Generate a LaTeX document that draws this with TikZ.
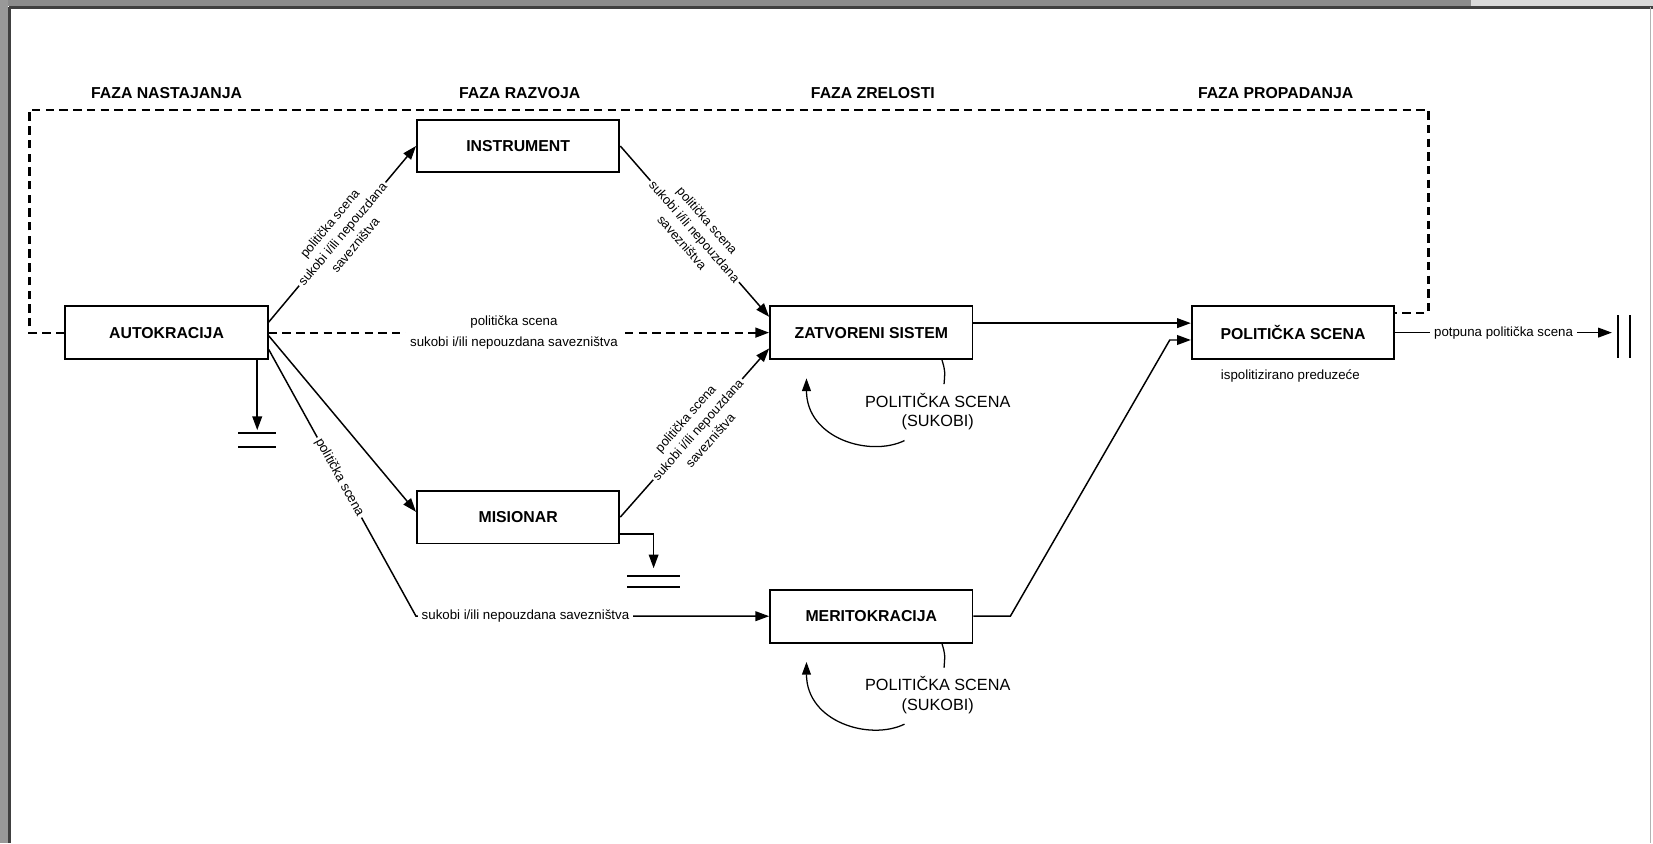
\documentclass[tikz,border=0pt]{standalone}
\usepackage{fontspec}
\setmainfont{Liberation Sans}
\usetikzlibrary{arrows.meta,calc}

\tikzset{
  box/.style={draw, line width=0.9pt, minimum width=96pt, minimum height=25pt,
    inner sep=0pt, font=\bfseries\fontsize{7.5}{9}\selectfont},
  phase/.style={font=\bfseries\fontsize{7.5}{9}\selectfont, inner sep=0pt},
  lbl/.style={font=\fontsize{6.3}{7.2}\selectfont, fill=white, inner sep=1pt, align=center},
  slbl/.style={lbl, sloped, font=\fontsize{6.1}{7.9}\selectfont},
  note/.style={font=\fontsize{7.7}{9.3}\selectfont, align=center, inner sep=0pt},
  conn/.style={line width=0.7pt, -{Triangle[length=6.5pt,width=4.6pt]}},
  flow/.style={line width=0.7pt},
  dashloop/.style={line width=1pt, dash pattern=on 4pt off 2.5pt},
  bar/.style={line width=1pt},
  selfloop/.style={line width=0.6pt, -{Triangle[length=6pt,width=4.2pt]}},
}

\begin{document}
\begin{tikzpicture}[x=0.5pt,y=-0.5pt]
\useasboundingbox (0,0) rectangle (1568,800);
\fill[white] (0,0) rectangle (1568,800);

% viewer frame
\fill[black!45] (0,0) rectangle (1395,6);
\fill[black!15] (1395,0) rectangle (1568,6);
\draw[black!75, line width=1.2pt] (9,7) -- (1568,7);
\fill[black!40] (0,0) rectangle (8,800);
\draw[black!75, line width=1pt] (9,7) -- (9,800);
\draw[black!30, line width=0.5pt] (1566,7) -- (1566,800);

% phase headings
\node[phase] at (158,88) {FAZA NASTAJANJA};
\node[phase] at (493,88) {FAZA RAZVOJA};
\node[phase] at (828,88) {FAZA ZRELOSTI};
\node[phase] at (1210,88) {FAZA PROPADANJA};

% organisation forms
\node[box] (A)  at (158,315.5)   {AUTOKRACIJA};
\node[box] (I)  at (491.5,138.5) {INSTRUMENT};
\node[box] (Z)  at (826.5,315.5) {ZATVORENI SISTEM};
\node[box] (MI) at (491.5,490.5) {MISIONAR};
\node[box] (ME) at (826.5,584.5) {MERITOKRACIJA};
\node[box] (PS) at (1226.5,315.5) {POLITIČKA SCENA};

\node[lbl, fill=none] (PSnote) at (1224,357) {ispolitizirano preduzeće};

% dashed return loop
\coordinate (loopTL) at (28,104);
\coordinate (loopTR) at (1355,104);
\coordinate (PSr) at ($(PS.east)+(0,-19)$);
\draw[dashloop] (A.west) -- (A.west -| loopTL) -- (loopTL) -- (loopTR)
  -- (loopTR |- PSr) -- (PSr);

% transitions out of the autocracy
\draw[conn] ($(A.east)+(0,-10)$) -- node[slbl]
  {politička scena\\sukobi i/ili nepouzdana\\savezništva} (I.west);
\draw[conn, dashloop] (A.east) -- node[lbl, pos=0.49, inner sep=2pt]
  {politička scena\\[2.5pt]sukobi i/ili nepouzdana savezništva} (Z.west);
\draw[conn] ($(A.east)+(0,3)$) -- ($(MI.west)+(0,-5)$);
\coordinate (MEc) at (MI.west |- ME.west);
\draw[conn] ($(A.east)+(0,16)$) -- node[lbl, sloped, pos=0.48] {politička scena} (MEc)
  -- node[lbl, pos=0.31, inner sep=2pt] {sukobi i/ili nepouzdana savezništva} (ME.west);

% transitions into the closed system
\draw[conn] (I.east) -- node[slbl]
  {politička scena\\sukobi i/ili nepouzdana\\savezništva} ($(Z.west)+(0,-15)$);
\draw[conn] (MI.east) -- node[slbl, pos=0.52]
  {politička scena\\sukobi i/ili nepouzdana\\savezništva} ($(Z.west)+(0,15)$);

% transitions into the political arena
\draw[conn] ($(Z.east)+(0,-9)$) -- ($(PS.west)+(0,-9)$);
\draw[conn] (ME.east) -- ++(35,0) -- ($(PS.west)+(-20,7)$) -- ($(PS.west)+(0,7)$);

% final stage
\coordinate (t3) at (1529,315.5);
\draw[conn] (PS.east) -- node[lbl, inner sep=2pt] {potpuna politička scena} (t3);
\draw[bar] (1535,299) -- (1535,340);
\draw[bar] (1546,299) -- (1546,340);

% terminations
\coordinate (t1) at (244,408);
\draw[conn] (A.south -| t1) -- (t1);
\draw[bar] (226,411) -- (262,411);
\draw[bar] (226,424) -- (262,424);

\coordinate (t2) at (620,539);
\draw[conn] ($(MI.east)+(0,16)$) -| (t2);
\draw[bar] (595,546) -- (645,546);
\draw[bar] (595,557) -- (645,557);

% internal conflicts
\foreach \b/\n in {Z/zn, ME/men} {
  \node[note] (\n) at ($(\b.south)+(63,49)$) {POLITIČKA SCENA\\(SUKOBI)};
  \draw[line width=0.6pt] ($(\b.south)+(67,0)$) .. controls ($(\b.south)+(70,10)$)
    .. ($(\b.south)+(69,23)$);
  \draw[selfloop] ($(\b.south)+(31.5,76.5)$) .. controls +(-33,16) and +(0,57)
    .. ($(\b.south)+(-61.5,17.5)$);
}
\end{tikzpicture}
\end{document}
